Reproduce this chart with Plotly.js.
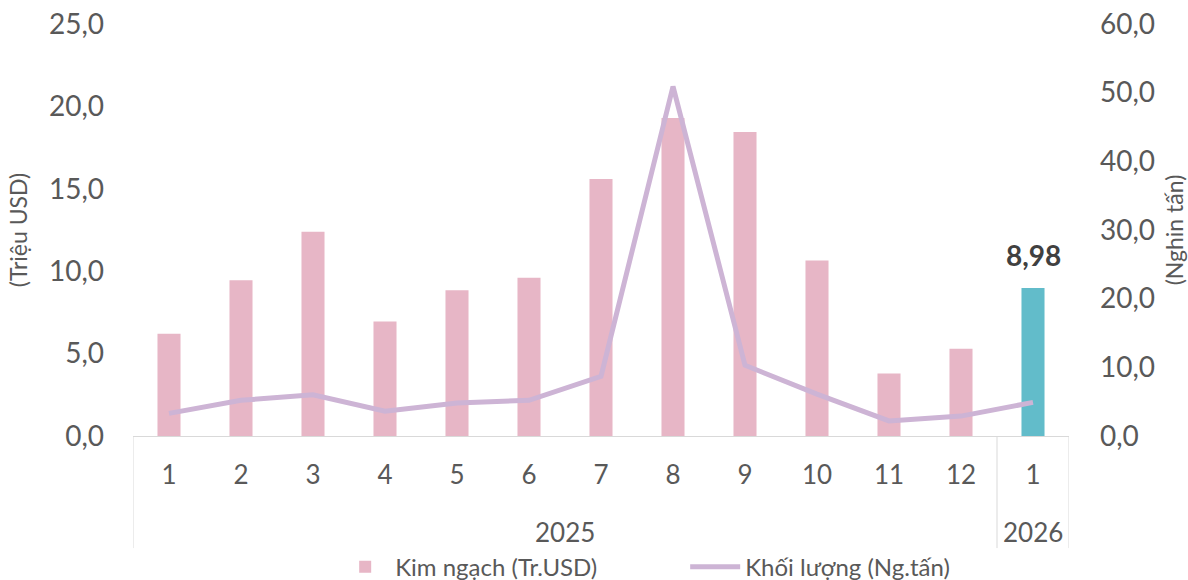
<!DOCTYPE html>
<html>
<head>
<meta charset="utf-8">
<script src="https://cdn.plot.ly/plotly-3.0.1.min.js"></script>
<style>
  html, body { margin: 0; padding: 0; background: #ffffff; }
  #chart { width: 1188px; height: 580px; }
</style>
</head>
<body>
<div id="chart"></div>
<script>
// ---- Data ----
const months = ['1','2','3','4','5','6','7','8','9','10','11','12','1'];
const years = ['2025','2025','2025','2025','2025','2025','2025','2025','2025','2025','2025','2025','2026'];
const kimNgach = [6.2, 9.45, 12.4, 6.95, 8.85, 9.6, 15.6, 19.3, 18.45, 10.65, 3.8, 5.3, 8.98];
const khoiLuong = [3.3, 5.2, 6.0, 3.6, 4.8, 5.2, 8.7, 50.9, 10.3, 6.1, 2.2, 2.9, 4.9];
const highlightYear = '2026';
const seriesNames = ['Kim ngạch (Tr.USD)', 'Khối lượng (Ng.tấn)'];
const yTitleLeft = '(Triệu USD)';
const yTitleRight = '(Nghin tấn)';

// ---- Styles ----
const PINK = '#E7B6C6';
const TEAL = '#62BCCA';
const LILAC = '#CDB4D5';
const TXT = '#595959';
const FONT = 'Lato, "Open Sans", sans-serif';

const idx = months.map((_, i) => i);
const barColors = years.map(y => y === highlightYear ? TEAL : PINK);

const traces = [
  {
    type: 'bar',
    x: idx,
    y: kimNgach,
    name: seriesNames[0],
    width: 0.32,
    marker: { color: barColors, line: { width: 0 } },
    hoverinfo: 'y'
  },
  {
    type: 'scatter',
    mode: 'lines',
    x: idx,
    y: khoiLuong,
    name: seriesNames[1],
    yaxis: 'y2',
    line: { color: LILAC, width: 5 },
    hoverinfo: 'y'
  }
];

// Year group labels and dividers computed from the years array
const groups = [];
years.forEach((y, i) => {
  if (!groups.length || groups[groups.length - 1].year !== y) groups.push({ year: y, start: i, end: i });
  else groups[groups.length - 1].end = i;
});

const annotations = groups.map(g => ({
  x: (g.start + g.end) / 2,
  xref: 'x',
  y: -0.233,
  yref: 'paper',
  text: g.year,
  showarrow: false,
  yanchor: 'middle',
  xanchor: 'center',
  font: { family: FONT, size: 26, color: TXT }
}));

// Data label on the highlighted bar(s)
years.forEach((y, i) => {
  if (y === highlightYear) {
    annotations.push({
      x: i, xref: 'x', y: kimNgach[i], yref: 'y',
      text: '<b>' + kimNgach[i].toFixed(2).replace('.', ',') + '</b>',
      showarrow: false, yanchor: 'bottom', yshift: 14,
      font: { family: FONT, size: 28, color: '#404040' }
    });
  }
});

const dividerXs = [-0.5].concat(groups.map(g => g.end + 0.5));
const shapes = dividerXs.map(xv => ({
  type: 'line', xref: 'x', yref: 'paper',
  x0: xv, x1: xv, y0: 0, y1: -0.272,
  line: { color: '#D9D9D9', width: 1 }
}));

const layout = {
  width: 1188,
  height: 580,
  margin: { l: 133, r: 119, t: 24, b: 144 },
  paper_bgcolor: '#ffffff',
  plot_bgcolor: '#ffffff',
  separators: ',.',
  font: { family: FONT, color: TXT },
  showlegend: true,
  legend: {
    orientation: 'h',
    x: 0.216, xanchor: 'left',
    yref: 'container',
    y: 0.022, yanchor: 'middle',
    font: { family: FONT, size: 24, color: TXT },
    itemwidth: 50,
    entrywidth: 285,
    entrywidthmode: 'pixels',
    borderwidth: 0,
    bgcolor: 'rgba(0,0,0,0)'
  },
  xaxis: {
    range: [-0.5, months.length - 0.5],
    tickvals: idx,
    ticktext: months,
    ticks: '',
    showgrid: false,
    zeroline: false,
    showline: true,
    linecolor: '#D9D9D9',
    linewidth: 1,
    tickfont: { family: FONT, size: 26, color: TXT },
    ticklabelstandoff: 16,
    automargin: false,
    fixedrange: true
  },
  yaxis: {
    range: [0, 25],
    dtick: 5,
    tickformat: '.1f',
    showgrid: false,
    zeroline: false,
    showline: false,
    ticks: '',
    tickfont: { family: FONT, size: 28, color: TXT },
    ticklabelstandoff: 28,
    automargin: 'left',
    title: { text: yTitleLeft, font: { family: FONT, size: 23, color: TXT }, standoff: 14 },
    fixedrange: true
  },
  yaxis2: {
    overlaying: 'y',
    side: 'right',
    range: [0, 60],
    dtick: 10,
    tickformat: '.1f',
    showgrid: false,
    zeroline: false,
    showline: false,
    ticks: '',
    tickfont: { family: FONT, size: 28, color: TXT },
    ticklabelstandoff: 30,
    automargin: false,
    title: { text: yTitleRight, font: { family: FONT, size: 23, color: TXT }, standoff: 12 },
    fixedrange: true
  },
  annotations: annotations,
  shapes: shapes,
  bargap: 0.68
};

Plotly.newPlot('chart', traces, layout, { displayModeBar: false, staticPlot: true });
</script>
</body>
</html>
